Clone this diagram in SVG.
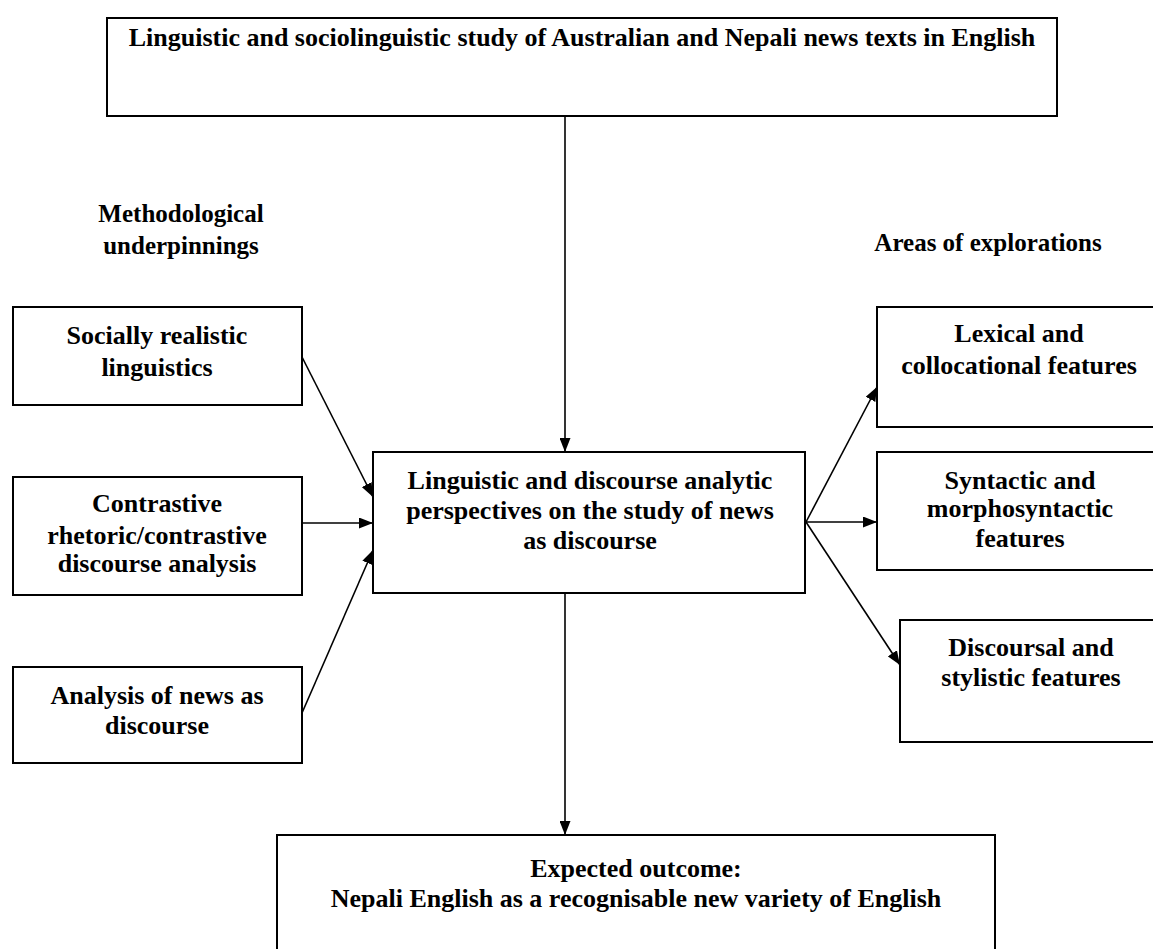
<svg xmlns="http://www.w3.org/2000/svg" width="1153" height="949" viewBox="0 0 1153 949">
<style>
  .box { fill: #fff; stroke: #000; stroke-width: 2; }
  .t { font-family: "Liberation Serif", "Times New Roman", serif; font-weight: bold; font-size: 26px; fill: #000; text-anchor: middle; }
  .lbl { font-size: 25px; }
  .c { stroke: #000; stroke-width: 1.6; fill: none; marker-end: url(#ah); }
</style>
<defs>
  <marker id="ah" viewBox="0 0 14 11" refX="14" refY="5.5" markerWidth="14" markerHeight="11" markerUnits="userSpaceOnUse" orient="auto">
    <path d="M0,0 L14,5.5 L0,11 Z" fill="#000"/>
  </marker>
</defs>
<rect width="1153" height="949" fill="#fff"/>

<g id="top">
  <rect class="box" x="107" y="18" width="950" height="98"/>
  <text class="t" x="582" y="46">Linguistic and sociolinguistic study of Australian and Nepali news texts in English</text>
</g>

<g id="label-left">
  <text class="t lbl" x="181" y="222">Methodological</text>
  <text class="t lbl" x="181" y="254">underpinnings</text>
</g>
<g id="label-right">
  <text class="t lbl" x="988" y="251">Areas of explorations</text>
</g>

<g id="left1">
  <rect class="box" x="13" y="307" width="289" height="98"/>
  <text class="t" x="157" y="344">Socially realistic</text>
  <text class="t" x="157" y="376">linguistics</text>
</g>
<g id="left2">
  <rect class="box" x="13" y="477" width="289" height="118"/>
  <text class="t" x="157" y="512">Contrastive</text>
  <text class="t" x="157" y="544">rhetoric/contrastive</text>
  <text class="t" x="157" y="572">discourse analysis</text>
</g>
<g id="left3">
  <rect class="box" x="13" y="667" width="289" height="96"/>
  <text class="t" x="157" y="704">Analysis of news as</text>
  <text class="t" x="157" y="734">discourse</text>
</g>

<g id="center">
  <rect class="box" x="373" y="452" width="432" height="141"/>
  <text class="t" x="590" y="489">Linguistic and discourse analytic</text>
  <text class="t" x="590" y="519">perspectives on the study of news</text>
  <text class="t" x="590" y="549">as discourse</text>
</g>

<g id="right1">
  <rect class="box" x="877" y="307" width="290" height="120"/>
  <text class="t" x="1019" y="342">Lexical and</text>
  <text class="t" x="1019" y="374">collocational features</text>
</g>
<g id="right2">
  <rect class="box" x="877" y="452" width="290" height="118"/>
  <text class="t" x="1020" y="489">Syntactic and</text>
  <text class="t" x="1020" y="517">morphosyntactic</text>
  <text class="t" x="1020" y="547">features</text>
</g>
<g id="right3">
  <rect class="box" x="900" y="620" width="270" height="122"/>
  <text class="t" x="1031" y="656">Discoursal and</text>
  <text class="t" x="1031" y="686">stylistic features</text>
</g>

<g id="bottom">
  <rect class="box" x="277" y="835" width="718" height="130"/>
  <text class="t" x="636" y="877">Expected outcome:</text>
  <text class="t" x="636" y="907">Nepali English as a recognisable new variety of English</text>
</g>

<g id="connectors">
  <line class="c" x1="565" y1="116" x2="565" y2="452"/>
  <line class="c" x1="302" y1="357" x2="373" y2="497"/>
  <line class="c" x1="302" y1="523" x2="373" y2="523"/>
  <line class="c" x1="302" y1="713" x2="373" y2="550"/>
  <line class="c" x1="806" y1="522" x2="877" y2="387"/>
  <line class="c" x1="806" y1="522" x2="877" y2="522"/>
  <line class="c" x1="806" y1="522" x2="900" y2="665"/>
  <line class="c" x1="565" y1="593" x2="565" y2="835"/>
</g>
</svg>
